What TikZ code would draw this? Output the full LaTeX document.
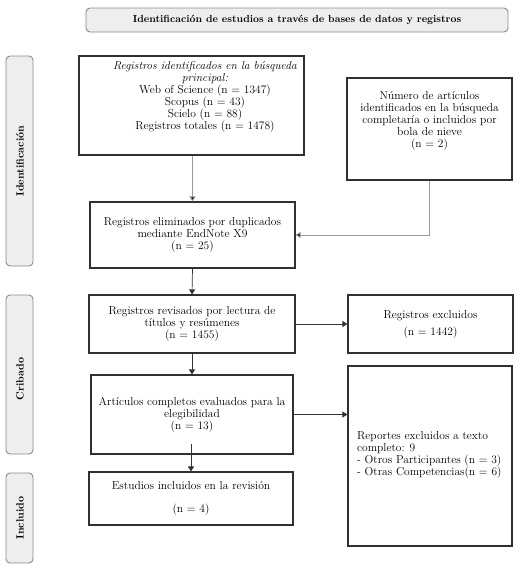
\documentclass[tikz,border=0pt]{standalone}
\usetikzlibrary{arrows.meta}
\definecolor{sidefill}{HTML}{EEEEEE}
\definecolor{sidedraw}{HTML}{8A8A8A}
\definecolor{boxdraw}{HTML}{303030}
\definecolor{graylink}{HTML}{9A9A9A}
\begin{document}
\begin{tikzpicture}[x=1pt,y=-1pt,
  every node/.style={font=\fontsize{11.5}{12}\selectfont},
  flowbox/.style={draw=boxdraw,line width=1.1pt,fill=white,inner sep=0pt},
  phasebox/.style={draw=sidedraw,line width=0.9pt,fill=sidefill,rounded corners=4pt,inner sep=0pt},
  phaselabel/.style={rotate=90,font=\fontsize{10.5}{12}\selectfont\bfseries},
  txt/.style={align=center,inner sep=0pt},
  linkgray/.style={draw=graylink,line width=0.9pt,-{Triangle[length=5pt,width=6pt,fill=black]}},
  linkblack/.style={draw=black!80,line width=0.7pt,-{Triangle[length=5pt,width=6pt]}}]
\useasboundingbox (0,0) rectangle (527,571);

% title
\node[phasebox,minimum width=422pt,minimum height=24pt,font=\fontsize{10.3}{12}\selectfont\bfseries] (title) at (297,20)
  {Identificación de estudios a través de bases de datos y registros};

% phase labels
\node[phasebox,minimum width=27pt,minimum height=210pt] (pI) at (19.5,161) {};
\node[phaselabel] (pIt) at (20,161) {Identificación};
\node[phasebox,minimum width=27pt,minimum height=159pt] (pC) at (19.5,374.5) {};
\node[phaselabel] (pCt) at (20,379) {Cribado};
\node[phasebox,minimum width=27pt,minimum height=90pt] (pN) at (19.5,518) {};
\node[phaselabel] (pNt) at (20,518) {Incluido};

% boxes
\node[flowbox,minimum width=225pt,minimum height=99pt] (A) at (191.5,105.5) {};
\node[txt] (At) at (205,97) {\textit{Registros identificados en la búsqueda}\\\textit{principal:}\\Web of Science (n = 1347)\\Scopus (n = 43)\\Scielo (n = 88)\\Registros totales (n = 1478)};

\node[flowbox,minimum width=165pt,minimum height=102pt] (B) at (429.5,129) {};
\node[txt] (Bt) at (429.5,121) {Número de artículos\\identificados en la búsqueda\\completaría o incluidos por\\bola de nieve\\(n = 2)};

\node[flowbox,minimum width=205pt,minimum height=66pt,align=center] (C) at (192.5,235)
  {Registros eliminados por duplicados\\mediante EndNote X9\\(n = 25)};

\node[flowbox,minimum width=206pt,minimum height=58pt,align=center] (D) at (192,324)
  {Registros revisados por lectura de\\títulos y resúmenes\\(n = 1455)};

\node[flowbox,minimum width=165pt,minimum height=58pt,align=center] (E) at (430.5,324)
  {Registros excluidos\\[5pt](n = 1442)};

\node[flowbox,minimum width=202pt,minimum height=79pt,align=center] (F) at (192,414.5)
  {Artículos completos evaluados para la\\elegibilidad\\(n = 13)};

\node[flowbox,minimum width=164pt,minimum height=180pt] (G) at (430,456) {};
\node[txt,align=left,anchor=west] (Gt) at (357,455) {Reportes excluidos a texto\\completo: 9\\- Otros Participantes (n = 3)\\- Otras Competencias(n = 6)};

\node[flowbox,minimum width=204pt,minimum height=53pt,align=center] (H) at (191,498.5)
  {Estudios incluidos en la revisión\\[11pt](n = 4)};

% connectors
\draw[linkgray] (A.south -| C) -- (C.north);
\draw[linkgray] (B.south) |- (C.east);
\draw[linkblack] (C.south) -- (D.north);
\draw[linkblack] (D.east) -- (E.west);
\draw[linkblack] (D.south) -- (F.north);
\draw[linkblack] (F.east) -- (F.east -| G.west);
\draw[linkblack] ([yshift=11pt]F.south -| H) -- (H.north);
\end{tikzpicture}
\end{document}
